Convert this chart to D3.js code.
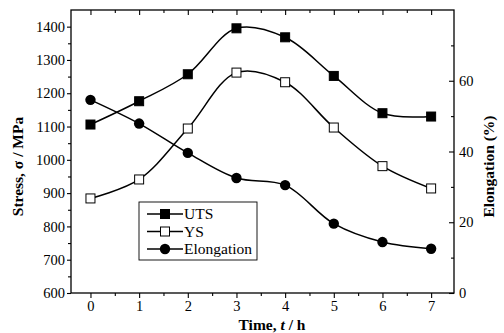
<!DOCTYPE html>
<html>
<head>
<meta charset="utf-8">
<script src="https://cdn.jsdelivr.net/npm/d3@7"></script>
<style>
body { margin: 0; background: #fff; }
svg text { font-family: 'Liberation Serif', 'Times New Roman', Times, serif; }
</style>
</head>
<body>
<div id="chart"></div>
<script>
// data
var hours = [0, 1, 2, 3, 4, 5, 6, 7];
var uts = [1106, 1176, 1257, 1395, 1368, 1252, 1140, 1130];
var ys = [884, 941, 1094, 1262, 1233, 1097, 981, 914];
var elongation = [54.6, 47.9, 39.6, 32.5, 30.5, 19.6, 14.4, 12.5];
var stressTicks = [600, 700, 800, 900, 1000, 1100, 1200, 1300, 1400];
var elongTicks = [0, 20, 40, 60];
var legendNames = ["UTS", "YS", "Elongation"];

var w = 504, h = 333;
var pLeft = 71, pRight = 454, pTop = 10, pBottom = 293;

var svg = d3.select("#chart").append("svg")
	.attr("width", w)
	.attr("height", h);

var x = d3.scaleLinear().domain([-0.4, 7.47]).range([pLeft, pRight]);
var yL = d3.scaleLinear().domain([600, 1450]).range([pBottom, pTop]);
var yR = d3.scaleLinear().domain([0, 80]).range([pBottom, pTop]);

var halfHours = d3.range(-0.5, 7.6, 1).filter(function(d){ return d > -0.4 && d < 7.47; });

// frame
svg.append("rect")
	.attr("x", pLeft).attr("y", pTop)
	.attr("width", pRight - pLeft).attr("height", pBottom - pTop)
	.attr("fill", "none").attr("stroke", "#000").attr("stroke-width", 1.3);

function styleAxis(g){
	g.attr("font-family", null);
	g.select(".domain").remove();
	g.selectAll("line").attr("stroke", "#000").attr("stroke-width", 1.1);
	g.selectAll("text").attr("font-size", 14.5).attr("fill", "#000");
}

// bottom axis
svg.append("g").attr("transform", "translate(0," + pBottom + ")")
	.call(d3.axisBottom(x).tickValues(halfHours).tickSize(3).tickFormat(""))
	.call(styleAxis);
svg.append("g").attr("transform", "translate(0," + pBottom + ")")
	.call(d3.axisBottom(x).tickValues(hours).tickSize(5).tickPadding(3).tickFormat(d3.format("d")))
	.call(styleAxis);
// top axis, ticks pointing in
svg.append("g").attr("transform", "translate(0," + pTop + ")")
	.call(d3.axisBottom(x).tickValues(halfHours).tickSize(3).tickFormat(""))
	.call(styleAxis);
svg.append("g").attr("transform", "translate(0," + pTop + ")")
	.call(d3.axisBottom(x).tickValues(hours).tickSize(5).tickFormat(""))
	.call(styleAxis);

// left axis
svg.append("g").attr("transform", "translate(" + pLeft + ",0)")
	.call(d3.axisLeft(yL).tickValues(d3.range(650, 1450, 100)).tickSize(3).tickFormat(""))
	.call(styleAxis);
svg.append("g").attr("transform", "translate(" + pLeft + ",0)")
	.call(d3.axisLeft(yL).tickValues(stressTicks).tickSize(4).tickPadding(2).tickFormat(d3.format("d")))
	.call(styleAxis);

// right axis, ticks inward, labels outside
svg.append("g").attr("transform", "translate(" + pRight + ",0)")
	.call(d3.axisLeft(yR).tickValues([10, 30, 50, 70]).tickSize(3).tickFormat(""))
	.call(styleAxis);
var rAx = svg.append("g").attr("transform", "translate(" + pRight + ",0)")
	.call(d3.axisLeft(yR).tickValues(elongTicks).tickSize(5).tickFormat(d3.format("d")))
	.call(styleAxis);
rAx.selectAll("text").attr("x", 5).attr("text-anchor", "start");

// axis titles
svg.append("text")
	.attr("transform", "translate(18," + ((pTop + pBottom) / 2 + 15) + ") rotate(-90)")
	.attr("text-anchor", "middle").attr("dy", "0.35em")
	.attr("font-size", 15.5).attr("font-weight", "bold")
	.text("Stress, σ / MPa");
svg.append("text")
	.attr("transform", "translate(489," + ((pTop + pBottom) / 2 + 15) + ") rotate(-90)")
	.attr("text-anchor", "middle").attr("dy", "0.35em")
	.attr("font-size", 15.5).attr("font-weight", "bold")
	.text("Elongation (%)");
var xt = svg.append("text")
	.attr("x", 272).attr("y", 330)
	.attr("text-anchor", "middle")
	.attr("font-size", 15.5).attr("font-weight", "bold");
xt.append("tspan").text("Time, ");
xt.append("tspan").attr("font-style", "italic").text("t");
xt.append("tspan").text(" / h");

// series
var series = [
	{name: "UTS", vals: uts, y: yL, marker: "square", fill: "#000"},
	{name: "YS", vals: ys, y: yL, marker: "square", fill: "#fff"},
	{name: "Elongation", vals: elongation, y: yR, marker: "circle", fill: "#000"}
];

series.forEach(function(s){
	var line = d3.line()
		.x(function(d, i){ return x(hours[i]); })
		.y(function(d){ return s.y(d); })
		.curve(d3.curveCatmullRom.alpha(0.5));
	svg.append("path")
		.datum(s.vals)
		.attr("d", line)
		.attr("fill", "none").attr("stroke", "#000").attr("stroke-width", 1.5);
});

function drawMarker(g, type, fill, cx, cy){
	if(type === "square"){
		g.append("rect")
			.attr("x", cx - 4.5).attr("y", cy - 4.5)
			.attr("width", 9).attr("height", 9)
			.attr("fill", fill).attr("stroke", "#000").attr("stroke-width", 1);
	} else {
		g.append("circle")
			.attr("cx", cx).attr("cy", cy).attr("r", 5.2)
			.attr("fill", fill);
	}
}

series.forEach(function(s){
	var g = svg.append("g");
	s.vals.forEach(function(d, i){
		drawMarker(g, s.marker, s.fill, x(hours[i]), s.y(d));
	});
});

// legend
var lg = svg.append("g");
lg.append("rect")
	.attr("x", 139).attr("y", 202).attr("width", 118).attr("height", 58)
	.attr("fill", "#fff").attr("stroke", "#000").attr("stroke-width", 0.9);
series.forEach(function(s, i){
	var cy = 214 + i * 17.5;
	lg.append("line")
		.attr("x1", 147).attr("x2", 183).attr("y1", cy).attr("y2", cy)
		.attr("stroke", "#000").attr("stroke-width", 1.5);
	drawMarker(lg, s.marker, s.fill, 165, cy);
	lg.append("text")
		.attr("x", 184).attr("y", cy).attr("dy", "0.35em")
		.attr("font-size", 15.5)
		.text(legendNames[i]);
});
</script>
</body>
</html>
